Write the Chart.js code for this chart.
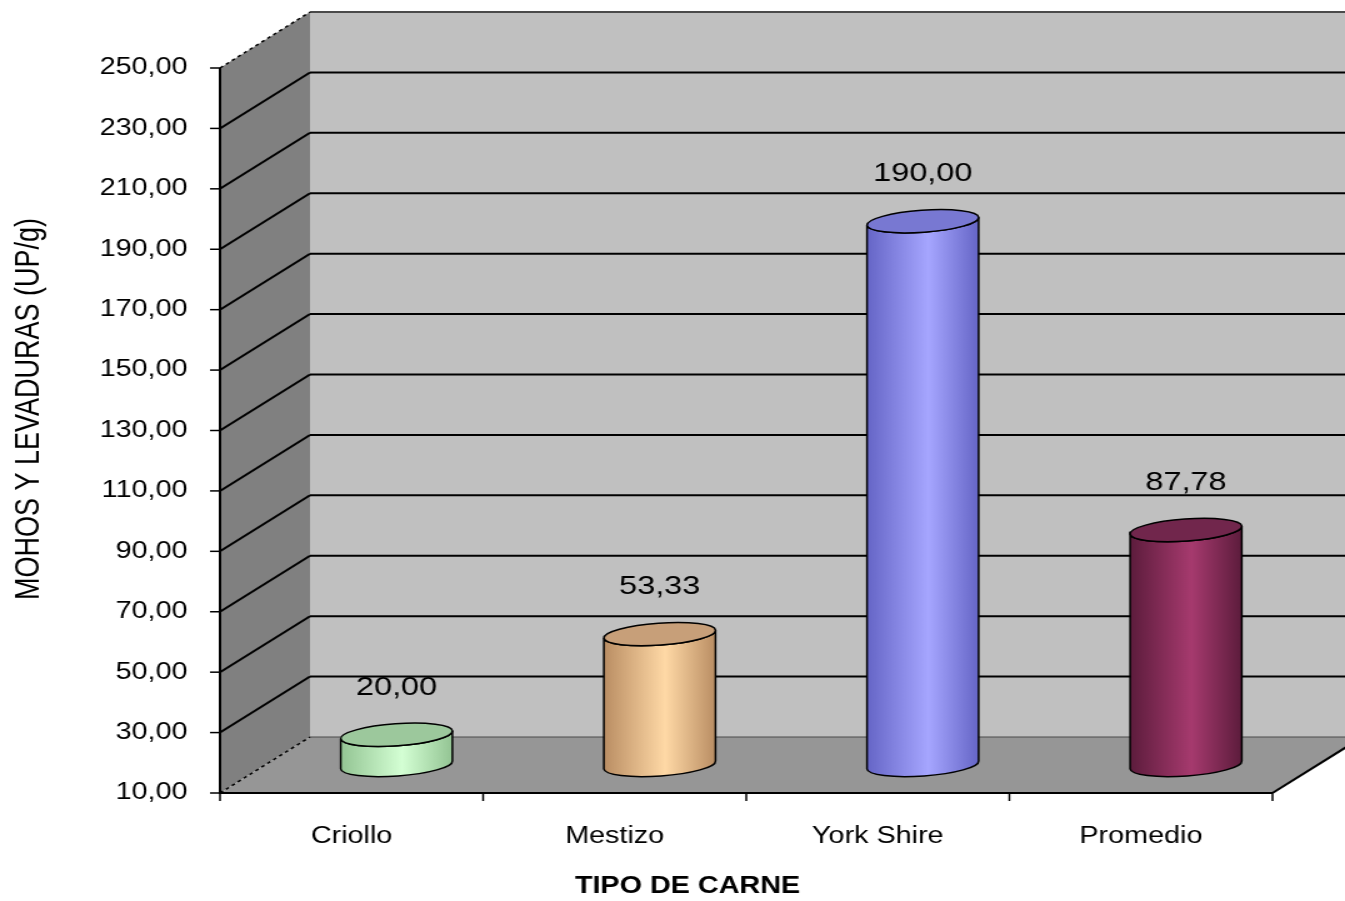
<!DOCTYPE html>
<html>
<head>
<meta charset="utf-8">
<title>Mohos y levaduras por tipo de carne</title>
<script src="https://cdn.jsdelivr.net/npm/chart.js@4/dist/chart.umd.min.js"></script>
<style>
  html, body { margin: 0; padding: 0; background: #fff; }
</style>
</head>
<body>
<!-- el lienzo se dibuja angosto y se estira a lo ancho -->
<canvas id="grafico" width="1076" height="901" style="width:1345px;height:901px;display:block"></canvas>
<script>
/************************
 *      Datos
 ************************/
const CATEGORIAS = ["Criollo", "Mestizo", "York Shire", "Promedio"]
const VALORES = [20.00, 53.33, 190.00, 87.78]
const Y_MIN = 10
const Y_MAX = 250
const Y_PASO = 20

const TITULO_Y = "MOHOS Y LEVADURAS (UP/g)"
const TITULO_X = "TIPO DE CARNE"

/************************
 *      Estilos
 ************************/
const FUENTE = '"Liberation Sans", Arial, sans-serif'
const LADO_OSCURO = ["#93c493", "#b98d63", "#6565c6", "#5c1c3c"]
const LADO_CLARO = ["#d4ffd4", "#ffd9a6", "#a6a6ff", "#a63a6e"]
const TAPA = ["#9cc89c", "#c79f79", "#7878d2", "#71264c"]

// fondo 3D: profundidad del piso y paredes
const PROF_X = 72
const PROF_Y = -56

const coma = (v) => v.toFixed(2).replace(".", ",")

/************************
 *      Metodos
 ************************/
const dibujarCilindro = (ctx, cx, yTop, yBase, rx, ry, giro, i) => {
    const ex = rx * Math.cos(giro)
    const ey = rx * Math.sin(giro)

    // cuerpo
    ctx.beginPath()
    ctx.moveTo(cx - ex, yTop - ey)
    ctx.lineTo(cx - ex, yBase - ey)
    ctx.ellipse(cx, yBase, rx, ry, giro, Math.PI, 0, true)
    ctx.lineTo(cx + ex, yTop + ey)
    ctx.ellipse(cx, yTop, rx, ry, giro, 0, Math.PI, false)
    ctx.closePath()
    const grad = ctx.createLinearGradient(cx - rx, 0, cx + rx, 0)
    grad.addColorStop(0, LADO_OSCURO[i])
    grad.addColorStop(0.55, LADO_CLARO[i])
    grad.addColorStop(1, LADO_OSCURO[i])
    ctx.fillStyle = grad
    ctx.fill()
    ctx.lineWidth = 1.5
    ctx.strokeStyle = "#000"
    ctx.stroke()

    // tapa
    ctx.beginPath()
    ctx.ellipse(cx, yTop, rx, ry, giro, 0, Math.PI * 2)
    ctx.fillStyle = TAPA[i]
    ctx.fill()
    ctx.stroke()
}

const fondo3D = {
    id: "fondo3D",
    beforeDatasetsDraw(chart) {
        const { ctx, chartArea: a, scales: { y } } = chart
        const L = a.left, R = a.right, B = a.bottom, T = a.top
        ctx.save()

        // pared del fondo
        ctx.fillStyle = "#c0c0c0"
        ctx.fillRect(L + PROF_X, T + PROF_Y, R - L + 60, B - T)

        // pared izquierda
        ctx.beginPath()
        ctx.moveTo(L, T)
        ctx.lineTo(L + PROF_X, T + PROF_Y)
        ctx.lineTo(L + PROF_X, B + PROF_Y)
        ctx.lineTo(L, B)
        ctx.closePath()
        ctx.fillStyle = "#808080"
        ctx.fill()

        // piso
        ctx.beginPath()
        ctx.moveTo(L, B)
        ctx.lineTo(L + PROF_X, B + PROF_Y)
        ctx.lineTo(R + PROF_X, B + PROF_Y)
        ctx.lineTo(R, B)
        ctx.closePath()
        ctx.fillStyle = "#969696"
        ctx.fill()

        // lineas de division
        for (let v = Y_MIN; v <= Y_MAX; v += Y_PASO) {
            const py = y.getPixelForValue(v)
            const borde = v === Y_MIN || v === Y_MAX
            ctx.beginPath()
            ctx.moveTo(L + PROF_X, py + PROF_Y)
            ctx.lineTo(R + PROF_X + 60, py + PROF_Y)
            ctx.setLineDash([])
            ctx.lineWidth = v === Y_MIN ? 1.2 : 2
            ctx.strokeStyle = borde ? "#4a4a4a" : "#000"
            ctx.stroke()

            ctx.beginPath()
            ctx.moveTo(L, py)
            ctx.lineTo(L + PROF_X, py + PROF_Y)
            ctx.setLineDash(borde ? [3, 3] : [])
            ctx.lineWidth = borde ? 1.5 : 2
            ctx.strokeStyle = "#000"
            ctx.stroke()
        }
        ctx.setLineDash([])

        // borde derecho del piso
        ctx.beginPath()
        ctx.moveTo(R, B)
        ctx.lineTo(R + PROF_X, B + PROF_Y)
        ctx.lineWidth = 2
        ctx.strokeStyle = "#000"
        ctx.stroke()
        ctx.restore()
    },
    afterDatasetsDraw(chart) {
        const { ctx, chartArea: a, scales: { x, y } } = chart
        ctx.save()

        // cilindros en la mitad de la profundidad
        const ancho = (a.right - a.left) / CATEGORIAS.length
        const rx = ancho * 0.213
        const yBase = y.getPixelForValue(Y_MIN) + PROF_Y / 2
        VALORES.forEach((v, i) => {
            const cx = x.getPixelForValue(i) + PROF_X / 2
            const yTop = y.getPixelForValue(v) + PROF_Y / 2
            dibujarCilindro(ctx, cx, yTop, yBase, rx, 11, -0.09, i)

            ctx.fillStyle = "#000"
            ctx.font = "26px " + FUENTE
            ctx.textAlign = "center"
            ctx.textBaseline = "middle"
            ctx.fillText(coma(v), cx, yTop - 47)
        })

        // ejes frontales
        ctx.strokeStyle = "#000"
        ctx.lineWidth = 2
        ctx.beginPath()
        ctx.moveTo(a.left, a.top)
        ctx.lineTo(a.left, a.bottom)
        ctx.lineTo(a.right, a.bottom)
        ctx.stroke()

        ctx.lineWidth = 1.5
        for (let v = Y_MIN; v <= Y_MAX; v += Y_PASO) {
            const py = y.getPixelForValue(v)
            ctx.beginPath()
            ctx.moveTo(a.left - 8, py)
            ctx.lineTo(a.left, py)
            ctx.stroke()
        }
        for (let k = 0; k <= CATEGORIAS.length; k++) {
            const px = a.left + ancho * k
            ctx.beginPath()
            ctx.moveTo(px, a.bottom)
            ctx.lineTo(px, a.bottom + 8)
            ctx.stroke()
        }
        ctx.restore()
    },
    afterDraw(chart) {
        const { ctx } = chart
        ctx.save()
        ctx.fillStyle = "#000"
        ctx.textAlign = "center"
        ctx.textBaseline = "middle"

        ctx.font = "bold 23px " + FUENTE
        ctx.fillText(TITULO_X, 550, 887)

        ctx.translate(24, 409)
        ctx.rotate(-Math.PI / 2)
        ctx.font = "27px " + FUENTE
        ctx.fillText(TITULO_Y, 0, 0)
        ctx.restore()
    }
}

const crearGrafico = () => {
    Chart.defaults.font.family = FUENTE
    Chart.defaults.color = "#000"

    new Chart("grafico", {
        type: "bar",
        data: {
            labels: CATEGORIAS,
            datasets: [{
                label: TITULO_Y,
                data: VALORES,
                backgroundColor: "rgba(0,0,0,0)",
                borderWidth: 0
            }]
        },
        options: {
            responsive: false,
            devicePixelRatio: 1,
            animation: false,
            layout: { padding: { top: 68, right: 58, left: 0, bottom: 0 } },
            plugins: {
                legend: { display: false },
                tooltip: { enabled: false }
            },
            scales: {
                x: {
                    grid: { display: false, drawTicks: false },
                    border: { display: false },
                    ticks: { font: { size: 23 }, padding: 30, maxRotation: 0 },
                    afterFit: (s) => { s.height = 108 }
                },
                y: {
                    min: Y_MIN,
                    max: Y_MAX,
                    grid: { display: false, drawTicks: false },
                    border: { display: false },
                    ticks: {
                        stepSize: Y_PASO,
                        font: { size: 23 },
                        padding: 26,
                        callback: (v) => coma(v)
                    },
                    afterFit: (s) => { s.width = 176 }
                }
            }
        },
        plugins: [fondo3D]
    })
}

crearGrafico()
</script>
</body>
</html>
